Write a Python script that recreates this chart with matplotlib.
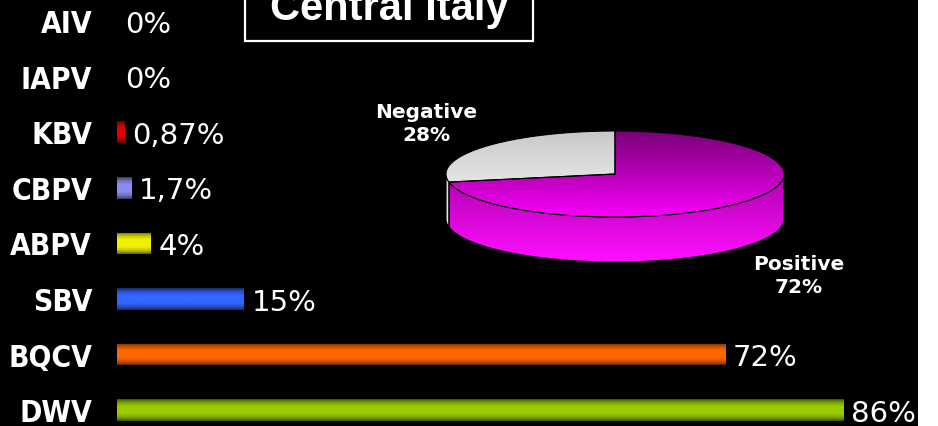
import numpy as np
import matplotlib.pyplot as plt
from matplotlib.colors import to_rgb
from matplotlib.patches import Rectangle, Polygon

viruses = ['AIV', 'IAPV', 'KBV', 'CBPV', 'ABPV', 'SBV', 'BQCV', 'DWV']
prevalence = [0, 0, 0.87, 1.7, 4, 15, 72, 86]
bar_colors = ['#ff0000', '#ff0000', '#e00000', '#8c8cf0', '#f0f000', '#3366ff', '#ff6600', '#99cc00']

pie_labels = ['Negative', 'Positive']
pie_shares = [28, 72]

W, H = 938, 427
fig = plt.figure(figsize=(W / 100, H / 100), dpi=100, facecolor='black')


def fmt(v):
    return ('%g' % v).replace('.', ',') + '%'


def shaded(color, n=48):
    # cylinder-like shading: dark rims, bright middle
    t = np.linspace(0, 1, n)
    s = 0.38 + 0.68 * np.sin(np.pi * t) ** 0.7
    rgb = np.clip(np.outer(np.minimum(s, 1.0), to_rgb(color)), 0, 1)
    return rgb[:, None, :]


def vgrad(c_top, c_bot, n=64):
    t = np.linspace(0, 1, n)[:, None]
    rgb = (1 - t) * np.array(to_rgb(c_top)) + t * np.array(to_rgb(c_bot))
    return rgb[:, None, :]


# ---- bar chart ----
px = 8.45  # pixels per percent
ax = fig.add_axes([117 / W, 0, (W - 117) / W, 1])
ax.patch.set_visible(False)
ys = np.arange(len(viruses))
bh = 0.39
bars = ax.barh(ys, prevalence, height=bh, color=bar_colors, linewidth=0, zorder=2)
for bar, c in zip(bars, bar_colors):
    w = bar.get_width()
    if w <= 0:
        continue
    y0 = bar.get_y()
    im = ax.imshow(shaded(c), extent=(0, w, y0 + bh, y0), aspect='auto',
                   interpolation='bilinear', zorder=3)
    im.set_clip_path(bar)

for y, name, v in zip(ys, viruses, prevalence):
    ax.annotate(name, xy=(0, y), xytext=(-18, -7.9), textcoords='offset points',
                ha='right', va='baseline', color='white', fontsize=21.5,
                fontweight='bold', fontstretch='condensed', family='DejaVu Sans',
                annotation_clip=False)
    ax.annotate(fmt(v), xy=(v, y), xytext=(5.5, -7.7), textcoords='offset points',
                ha='left', va='baseline', color='white', fontsize=21,
                family='DejaVu Sans', annotation_clip=False)

ax.set_xlim(0, (W - 117) / px)
ax.set_ylim((H - 22) / 55.6, -22 / 55.6)
ax.axis('off')

# ---- 3D pie ----
pax = fig.add_axes([0, 0, 1, 1], zorder=-1)
pax.patch.set_visible(False)
cx, cy, a, b, depth = 615, 175, 169, 43, 45


def rim(t):
    r = np.radians(t)
    return np.column_stack([cx + a * np.cos(r), cy - b * np.sin(r)])


side_cols = {'Negative': ('#d8d8d8', '#ffffff'), 'Positive': ('#b000b0', '#ff10ff')}
top_cols = {'Negative': ('#c8c8c8', '#f8f8f8'), 'Positive': ('#780078', '#f800f8')}

start = 90.0
slices = []
for lab, share in zip(pie_labels, pie_shares):
    end = start + share * 3.6
    slices.append((lab, start, end))
    start = end

# visible front side
for lab, t0, t1 in slices:
    for lo, hi in [(180, 360), (540, 720)]:
        s0, s1 = max(t0, lo), min(t1, hi)
        if s1 <= s0:
            continue
        t = np.linspace(s0, s1, 120)
        top = rim(t)
        bot = top + [0, depth]
        poly = Polygon(np.vstack([top, bot[::-1]]), closed=True, fc='none',
                       ec='black', lw=0.8, zorder=2)
        pax.add_patch(poly)
        im = pax.imshow(vgrad(*side_cols[lab]), extent=(cx - a, cx + a, cy + depth + b, cy),
                        aspect='auto', interpolation='bilinear', zorder=1)
        im.set_clip_path(poly)

# top face
for lab, t0, t1 in slices:
    t = np.linspace(t0, t1, 200)
    pts = np.vstack([[cx, cy], rim(t)])
    wedge = Polygon(pts, closed=True, fc='none', ec='black', lw=0.8, zorder=4)
    pax.add_patch(wedge)
    im = pax.imshow(vgrad(*top_cols[lab]), extent=(cx - a, cx + a, cy + b, cy - b),
                    aspect='auto', interpolation='bilinear', zorder=3)
    im.set_clip_path(wedge)

label_pos = {'Negative': (426, 124), 'Positive': (799, 276)}
for lab, share in zip(pie_labels, pie_shares):
    x, y = label_pos[lab]
    pax.text(x, y, '%s\n%d%%' % (lab, share), ha='center', va='center', color='white',
             fontsize=14.5, fontweight='bold', family='DejaVu Sans', linespacing=1.3)

# title box
pax.text(389, 20, 'Central Italy', ha='center', va='baseline', color='white',
         fontsize=30, fontweight='bold', family='Liberation Sans')
pax.add_patch(Rectangle((245, -10), 288, 52, fill=False, ec='white', lw=1.6))

pax.set_xlim(0, W)
pax.set_ylim(H, 0)
pax.axis('off')

fig.add_artist(Rectangle((918 / W, 0), 20 / W, 1, transform=fig.transFigure,
                         facecolor='white', edgecolor='none', zorder=10))

fig.savefig('out.png', dpi=100, facecolor='black')
